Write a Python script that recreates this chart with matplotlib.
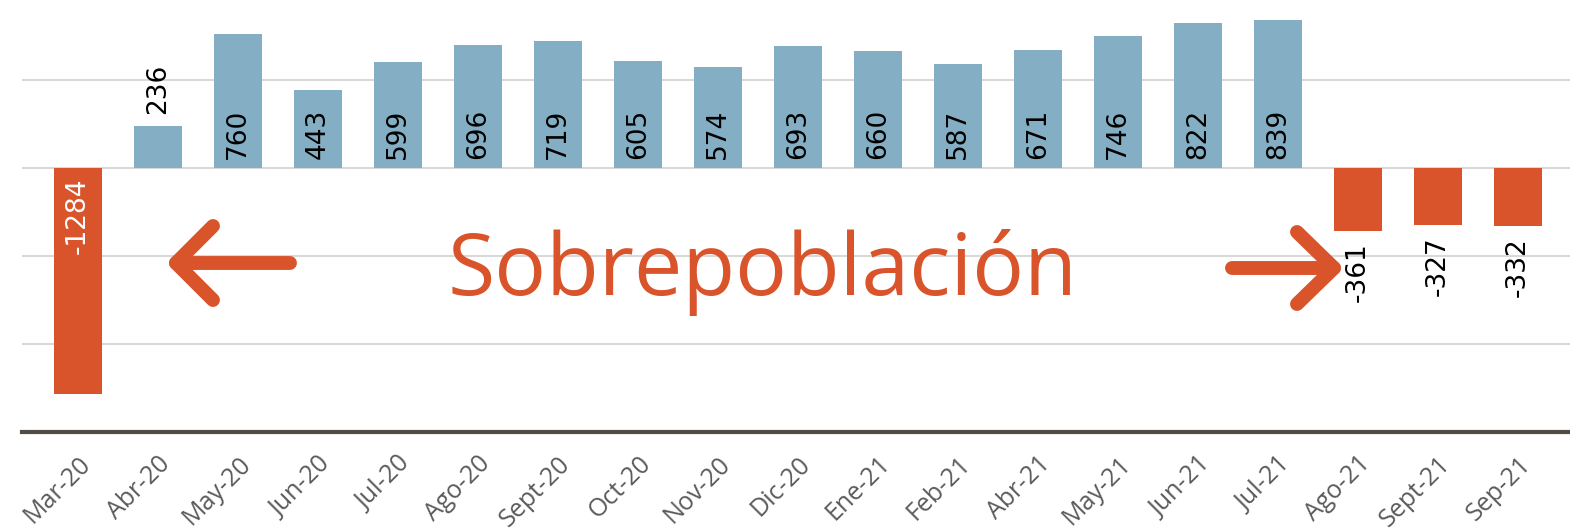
import matplotlib
matplotlib.use("Agg")
import matplotlib.pyplot as plt
import numpy as np

months = ["Mar-20", "Abr-20", "May-20", "Jun-20", "Jul-20", "Ago-20", "Sept-20",
          "Oct-20", "Nov-20", "Dic-20", "Ene-21", "Feb-21", "Abr-21", "May-21",
          "Jun-21", "Jul-21", "Ago-21", "Sept-21", "Sep-21"]
values = [-1284, 236, 760, 443, 599, 696, 719, 605, 574, 693, 660, 587, 671,
          746, 822, 839, -361, -327, -332]
gridlines = [500, 0, -500, -1000]

BLUE = "#84AEC3"
ORANGE = "#D9532B"

fig = plt.figure(figsize=(15.70, 5.29), dpi=100)
ax = fig.add_axes([22 / 1570, 97 / 529, 1 - 22 / 1570, 432 / 529])

x = np.arange(len(values))
colors = [BLUE if v > 0 else ORANGE for v in values]
ax.bar(x, values, width=0.6, color=colors, zorder=2)

for g in gridlines:
    ax.axhline(g, color="#D9D9D9", lw=1.5, zorder=1)

ax.set_ylim(-1500, 952)
ax.set_xlim(-0.7, 18.65)

vfont = dict(family="DejaVu Sans", size=19)
for xi, v in zip(x, values):
    if v > 0:
        if v > 350:
            ax.annotate(str(v), (xi, 0), xytext=(0, 6), textcoords="offset points",
                        rotation=90, ha="center", va="bottom", color="black", **vfont)
        else:
            ax.annotate(str(v), (xi, v), xytext=(0, 9), textcoords="offset points",
                        rotation=90, ha="center", va="bottom", color="black", **vfont)
    else:
        if v < -800:
            ax.annotate(str(v), (xi, 0), xytext=(0, -7), textcoords="offset points",
                        rotation=90, ha="center", va="top", color="white", **vfont)
        else:
            ax.annotate(str(v), (xi, v), xytext=(0, -8), textcoords="offset points",
                        rotation=90, ha="center", va="top", color="black", **vfont)

for s in ["top", "right", "left"]:
    ax.spines[s].set_visible(False)
ax.spines["bottom"].set_color("#524A45")
ax.spines["bottom"].set_linewidth(3)
ax.set_yticks([])
ax.set_xticks(x)
ax.set_xticklabels(months, rotation=45, ha="right", rotation_mode="anchor",
                   fontsize=18, color="#5A5A5A", family="Open Sans")
ax.tick_params(axis="x", length=0, pad=14)

ax.text((762 - 22) / 1548, (432 - 272) / 432, "Sobrepoblación", transform=ax.transAxes,
        ha="center", va="center", fontsize=62, color=ORANGE, family="Open Sans")

def fx(px):
    return (px - 22) / 1548

def fy(py):
    return (432 - py) / 432

arrow_kw = dict(color=ORANGE, lw=10, solid_capstyle="round", solid_joinstyle="round",
                transform=ax.transAxes, zorder=3)
ax.plot([fx(290), fx(176)], [fy(263), fy(263)], **arrow_kw)
ax.plot([fx(213), fx(176), fx(213)], [fy(226), fy(263), fy(300)], **arrow_kw)
ax.plot([fx(1232), fx(1334)], [fy(268), fy(268)], **arrow_kw)
ax.plot([fx(1297), fx(1334), fx(1297)], [fy(232), fy(268), fy(304)], **arrow_kw)

fig.savefig("out.png", dpi=100)
